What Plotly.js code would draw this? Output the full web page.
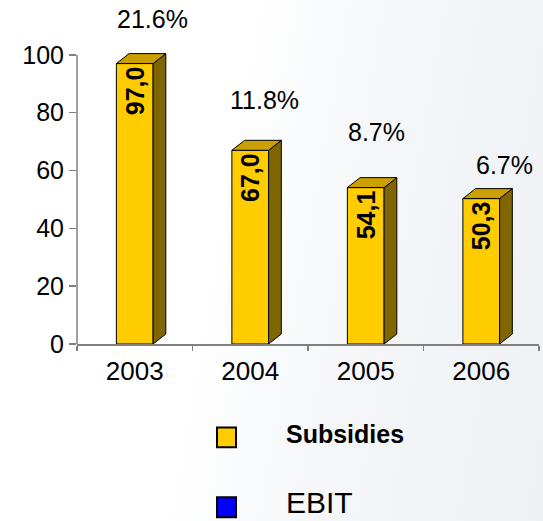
<!DOCTYPE html>
<html>
<head>
<meta charset="utf-8">
<script src="https://cdn.plot.ly/plotly-3.0.1.min.js"></script>
<style>
  html, body { margin: 0; padding: 0; }
  body {
    width: 543px; height: 521px; overflow: hidden;
    background: linear-gradient(100deg, #ffffff 0%, #ffffff 40%, #f5f7f9 62%, #eef1f4 100%);
  }
  #chart { width: 543px; height: 521px; }
</style>
</head>
<body>
<div id="chart"></div>
<script>
// ---- data ----
const years = ['2003', '2004', '2005', '2006'];
const subsidies = [97.0, 67.0, 54.1, 50.3];
const subsidyLabels = ['97,0', '67,0', '54,1', '50,3'];
const ebitMargin = ['21.6%', '11.8%', '8.7%', '6.7%'];
const yTicks = [0, 20, 40, 60, 80, 100];

// ---- style constants ----
const FONT = 'Arial, "Liberation Sans", sans-serif';
const FRONT = '#FFCC00', TOP = '#CC9F00', SIDE = '#806600';
const BAR_W = 0.318;     // bar width (category units)
const DX = 0.11;         // 3D depth, x units
const DY = 3.45;         // 3D depth, y units
const pctShiftX = [18, 14, 11, 23];   // label nudges in px
const pctShiftY = [45, 50, 56, 34];

const idx = years.map((_, i) => i);
const hw = BAR_W / 2;

// side faces and top faces built from the data
const sideX = [], sideY = [], topX = [], topY = [];
idx.forEach((i) => {
  const v = subsidies[i];
  sideX.push(i + hw, i + hw + DX, i + hw + DX, i + hw, i + hw, null);
  sideY.push(0, DY, v + DY, v, 0, null);
  topX.push(i - hw, i - hw + DX, i + hw + DX, i + hw, i - hw, null);
  topY.push(v, v + DY, v + DY, v, v, null);
});

const traces = [
  {
    type: 'bar', x: idx, y: subsidies, width: BAR_W,
    marker: { color: FRONT, line: { color: '#000', width: 1 } },
    text: subsidyLabels, texttemplate: '<b>%{text}</b>',
    textposition: 'inside', insidetextanchor: 'end', textangle: -90,
    textfont: { family: FONT, size: 25, color: '#000' },
    constraintext: 'none',
    hoverinfo: 'skip', showlegend: false
  },
  {
    type: 'scatter', mode: 'lines', x: sideX, y: sideY, fill: 'toself',
    fillcolor: SIDE, line: { color: '#000', width: 1 },
    hoverinfo: 'skip', showlegend: false
  },
  {
    type: 'scatter', mode: 'lines', x: topX, y: topY, fill: 'toself',
    fillcolor: TOP, line: { color: '#000', width: 1 },
    hoverinfo: 'skip', showlegend: false
  }
];

// plot geometry (px)
const L = 77, R = 4, BOTTOM_PX = 344.5, UNIT = 2.895, YMAX = 101;
const plotH = UNIT * YMAX;
const T = BOTTOM_PX - plotH;
const plotW = 543 - L - R;
const px = (x) => (x - L) / plotW;
const py = (y) => (BOTTOM_PX - y) / plotH;

const annotations = idx.map((i) => ({
  x: i, y: subsidies[i], xref: 'x', yref: 'y',
  text: ebitMargin[i], showarrow: false,
  xshift: pctShiftX[i], yshift: pctShiftY[i],
  font: { family: FONT, size: 25, color: '#000' }
}));

annotations.push(
  { x: px(284), y: py(435), xref: 'paper', yref: 'paper', xanchor: 'left', yanchor: 'middle',
    text: '<b>Subsidies</b>', showarrow: false, font: { family: FONT, size: 25, color: '#000' } },
  { x: px(284), y: py(503), xref: 'paper', yref: 'paper', xanchor: 'left', yanchor: 'middle',
    text: 'EBIT', showarrow: false, font: { family: FONT, size: 30, color: '#000' } }
);

const shapes = [
  { type: 'line', xref: 'paper', yref: 'y', x0: 0, x1: 0, y0: 0, y1: 100,
    line: { color: '#808080', width: 1.5 } },
  { type: 'rect', xref: 'paper', yref: 'paper', x0: px(217), x1: px(236), y0: py(448), y1: py(428),
    fillcolor: FRONT, line: { color: '#000', width: 2 } },
  { type: 'rect', xref: 'paper', yref: 'paper', x0: px(217), x1: px(236), y0: py(518), y1: py(498),
    fillcolor: '#0000FF', line: { color: '#000', width: 2 } }
];

const layout = {
  width: 543, height: 521,
  margin: { l: L, r: R, t: T, b: 521 - BOTTOM_PX, pad: 0 },
  paper_bgcolor: 'rgba(0,0,0,0)', plot_bgcolor: 'rgba(0,0,0,0)',
  showlegend: false,
  font: { family: FONT, color: '#000' },
  xaxis: {
    range: [-0.5, 3.5], tickvals: idx, ticktext: years, ticks: '',
    showline: true, linecolor: '#808080', linewidth: 1.5,
    showgrid: false, zeroline: false, fixedrange: true,
    tickfont: { family: FONT, size: 26, color: '#000' },
    ticklabelstandoff: 3,
    minor: { tickvals: [-0.5, 0.5, 1.5, 2.5, 3.5], ticks: 'outside', ticklen: 5,
             tickcolor: '#808080', tickwidth: 1.5, showgrid: false }
  },
  yaxis: {
    range: [0, YMAX], tickvals: yTicks, ticks: 'outside', ticklen: 7,
    tickcolor: '#808080', tickwidth: 1.5,
    showline: false, showgrid: false, zeroline: false, fixedrange: true,
    tickfont: { family: FONT, size: 25, color: '#000' }
  },
  annotations: annotations,
  shapes: shapes,
  bargap: 0
};

Plotly.newPlot('chart', traces, layout, { displayModeBar: false, staticPlot: true });
</script>
</body>
</html>
